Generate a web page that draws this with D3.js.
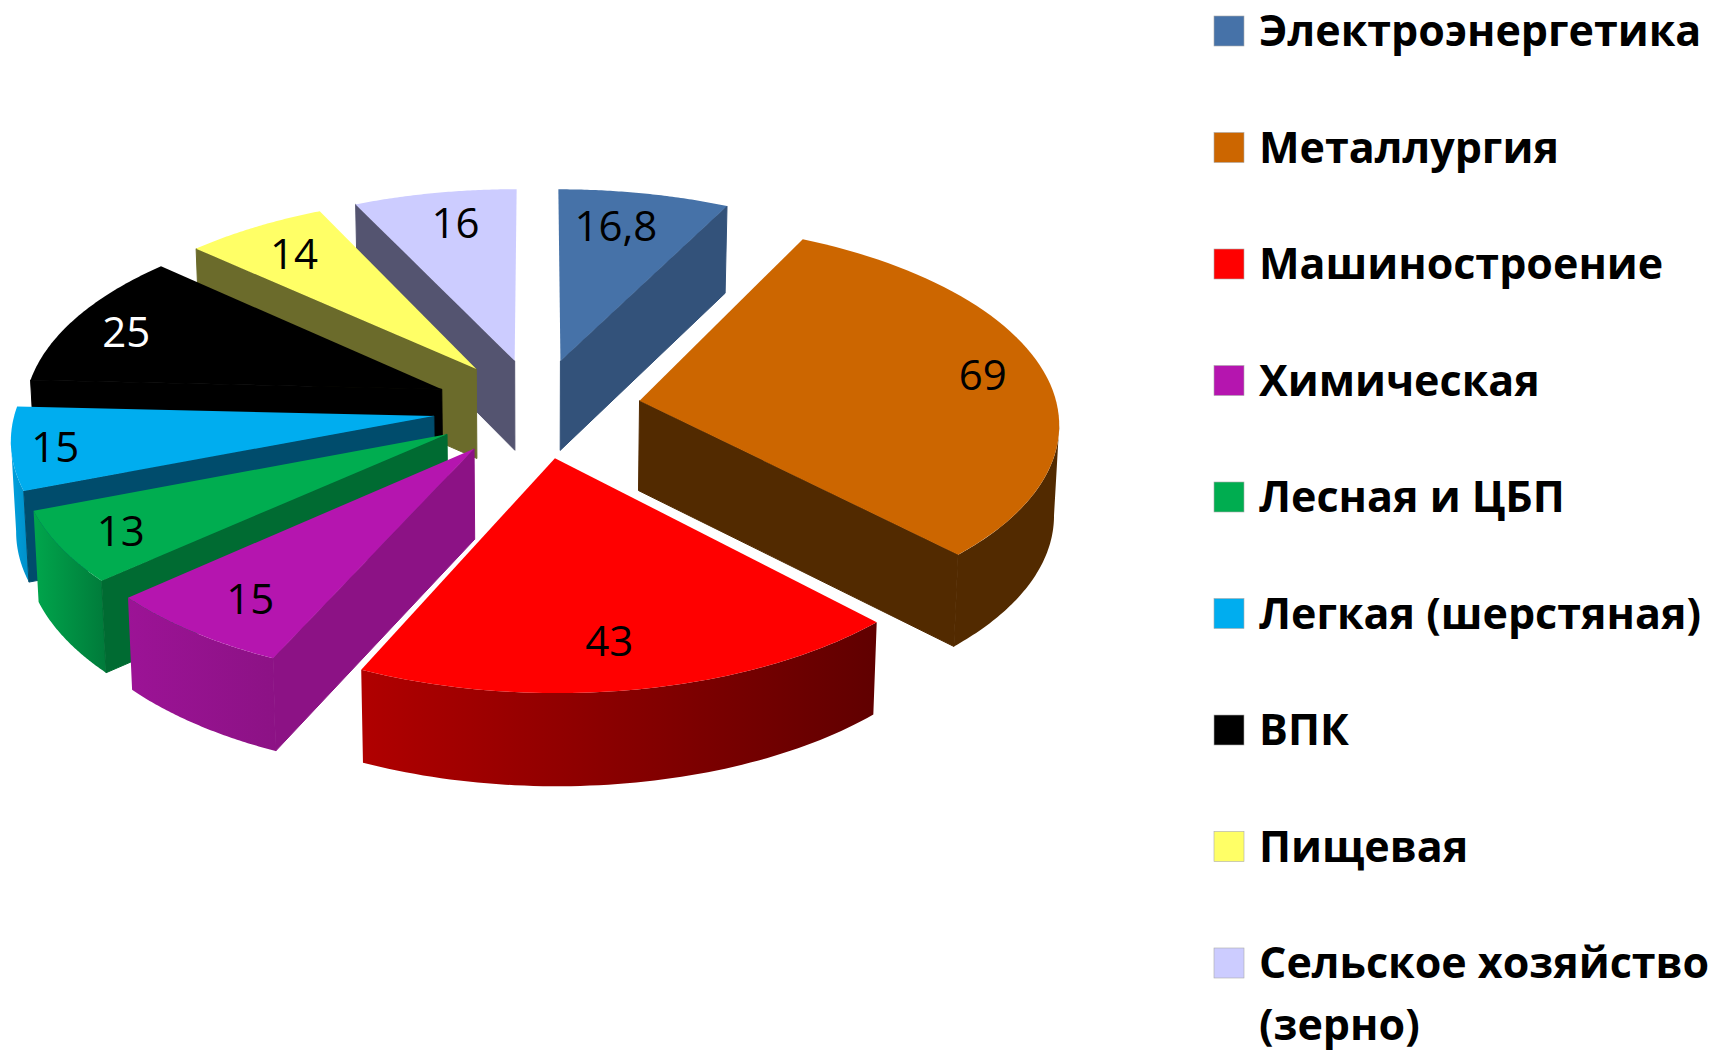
<!DOCTYPE html>
<html>
<head>
<meta charset="utf-8">
<script src="https://cdn.jsdelivr.net/npm/d3@7"></script>
<style>
  html, body { margin: 0; padding: 0; background: #fff; }
  svg { display: block; }
</style>
</head>
<body>
<div id="chart"></div>
<script>
// data
const categories = ["Электроэнергетика", "Металлургия", "Машиностроение", "Химическая",
  "Лесная и ЦБП", "Легкая (шерстяная)", "ВПК", "Пищевая", "Сельское хозяйство\n(зерно)"];
const values = [16.8, 69, 43, 15, 13, 15, 25, 14, 16];
const valueLabels = ["16,8", "69", "43", "15", "13", "15", "25", "14", "16"];

// colours
const topColors = ["#4672a8", "#cc6600", "#ff0000", "#b515af", "#00ad50", "#00adef", "#000000", "#ffff66", "#ccccff"];
const wallColors = ["#33527a", "#522a00", "#800000", "#8c1285", "#006b32", "#004c6c", "#000000", "#6b6b2b", "#545470"];
const rimFrom = ["#33527a", "#522a00", "#b00000", "#9c1396", "#00a64c", "#00a0de", "#000000", "#6b6b2b", "#545470"];
const rimTo = ["#33527a", "#522a00", "#600000", "#8c1285", "#007a3a", "#0090c8", "#000000", "#6b6b2b", "#545470"];
const labelColors = ["#000", "#000", "#000", "#000", "#000", "#000", "#fff", "#000", "#000"];
const labelRadius = [1.04, 1.10, 1.05, 1.07, 1.10, 1.146, 1.10, 1.06, 1.06];
const labelAngleShift = [-1.8, -0.8, 1.2, -0.5, 0, 0, -0.9, 0, 1.0];

const width = 1715;
const height = 1053;
const cx = 537, cy = 408;      // centre of the pie plane
const rx = 418, ry = 199;      // projected radius
const perspX = 0.1, perspY = 0.105;  // perspective strength
const explode = 0.249;         // slice offset, in radii
const depth = 90;              // height of the pie
const bottomShrink = 0.99;

const svg = d3.select("#chart").append("svg")
  .attr("width", width)
  .attr("height", height);
const defs = svg.append("defs");

const slices = d3.pie().sort(null).value((d) => d)(values).map((s, i) => ({
  ...s,
  i,
  mid: (s.startAngle + s.endAngle) / 2,
}));

// world point on the plane (x right, z away from viewer) -> screen
function project(x, z, lower) {
  const sx = rx * x / (1 + perspX * z);
  const sy = cy - ry * z / (1 + perspY * z);
  if (!lower) return [cx + sx, sy];
  return [cx + sx * bottomShrink, sy + depth - 2.5 * z];
}

function offset(s) {
  return [explode * Math.sin(s.mid), explode * Math.cos(s.mid)];
}

function rimPoint(s, a, lower) {
  const [ox, oz] = offset(s);
  return project(ox + Math.sin(a), oz + Math.cos(a), lower);
}

function apex(s, lower) {
  const [ox, oz] = offset(s);
  return project(ox, oz, lower);
}

function arcPoints(s, a0, a1, lower) {
  return d3.range(0, 61).map((j) => rimPoint(s, a0 + (a1 - a0) * j / 60, lower));
}

const line = d3.line();
const closed = (pts) => line(pts) + "Z";

// far slices first, so near ones paint over them
const order = slices.slice().sort((a, b) => d3.descending(Math.cos(a.mid), Math.cos(b.mid)));

// the rim is seen between the left and right silhouette of the disc
const rimMin = 97 * Math.PI / 180;
const rimMax = 263 * Math.PI / 180;

order.forEach((s) => {
  const g = svg.append("g").attr("class", "slice");
  const { i, startAngle: a0, endAngle: a1 } = s;

  // outer rim
  const r0 = Math.max(a0, rimMin);
  const r1 = Math.min(a1, rimMax);
  if (r1 > r0) {
    const grad = defs.append("linearGradient").attr("id", `rim-${i}`);
    grad.append("stop").attr("offset", "0%").attr("stop-color", rimFrom[i]);
    grad.append("stop").attr("offset", "100%").attr("stop-color", rimTo[i]);
    g.append("path")
      .attr("d", closed(arcPoints(s, r0, r1).concat(arcPoints(s, r1, r0, true))))
      .attr("fill", `url(#rim-${i})`);
  }

  // visible radial walls, stroked to close the seam with the rim
  const wallAngles = [];
  if (Math.sin(a1) > 0.001) wallAngles.push(a1);
  if (Math.sin(a0) < -0.001) wallAngles.push(a0);
  wallAngles.forEach((a) => {
    g.append("path")
      .attr("d", closed([apex(s), rimPoint(s, a), rimPoint(s, a, true), apex(s, true)]))
      .attr("fill", wallColors[i])
      .attr("stroke", wallColors[i])
      .attr("stroke-width", 1);
  });

  // top face
  g.append("path")
    .attr("d", closed([apex(s)].concat(arcPoints(s, a0, a1))))
    .attr("fill", topColors[i]);
});

// value labels
function labelPos(s) {
  const a = s.mid + labelAngleShift[s.i] * Math.PI / 180;
  return project(labelRadius[s.i] * Math.sin(a), labelRadius[s.i] * Math.cos(a));
}

svg.append("g").selectAll("text")
  .data(slices)
  .join("text")
  .attr("x", (s) => labelPos(s)[0])
  .attr("y", (s) => labelPos(s)[1])
  .attr("text-anchor", "middle")
  .attr("dominant-baseline", "central")
  .attr("font-family", "'Open Sans', sans-serif")
  .attr("font-size", 42)
  .attr("fill", (s) => labelColors[s.i])
  .text((s) => valueLabels[s.i]);

// legend
const legendY = d3.scaleLinear().domain([0, 8]).range([16, 948]);
const legend = svg.append("g").selectAll("g")
  .data(categories)
  .join("g")
  .attr("transform", (d, i) => `translate(1214,${legendY(i)})`);

legend.append("rect")
  .attr("width", 30)
  .attr("height", 30)
  .attr("fill", (d, i) => topColors[i])
  .attr("stroke", "#aaa")
  .attr("stroke-width", 0.6);

legend.append("text")
  .attr("transform", "translate(45,30)")
  .attr("font-family", "'Open Sans', sans-serif")
  .attr("font-weight", 700)
  .attr("font-size", 43)
  .attr("fill", "#000")
  .selectAll("tspan")
  .data((d) => d.split("\n"))
  .join("tspan")
  .attr("x", 0)
  .attr("dy", (d, j) => (j ? 62 : 0))
  .text((d) => d);
</script>
</body>
</html>
